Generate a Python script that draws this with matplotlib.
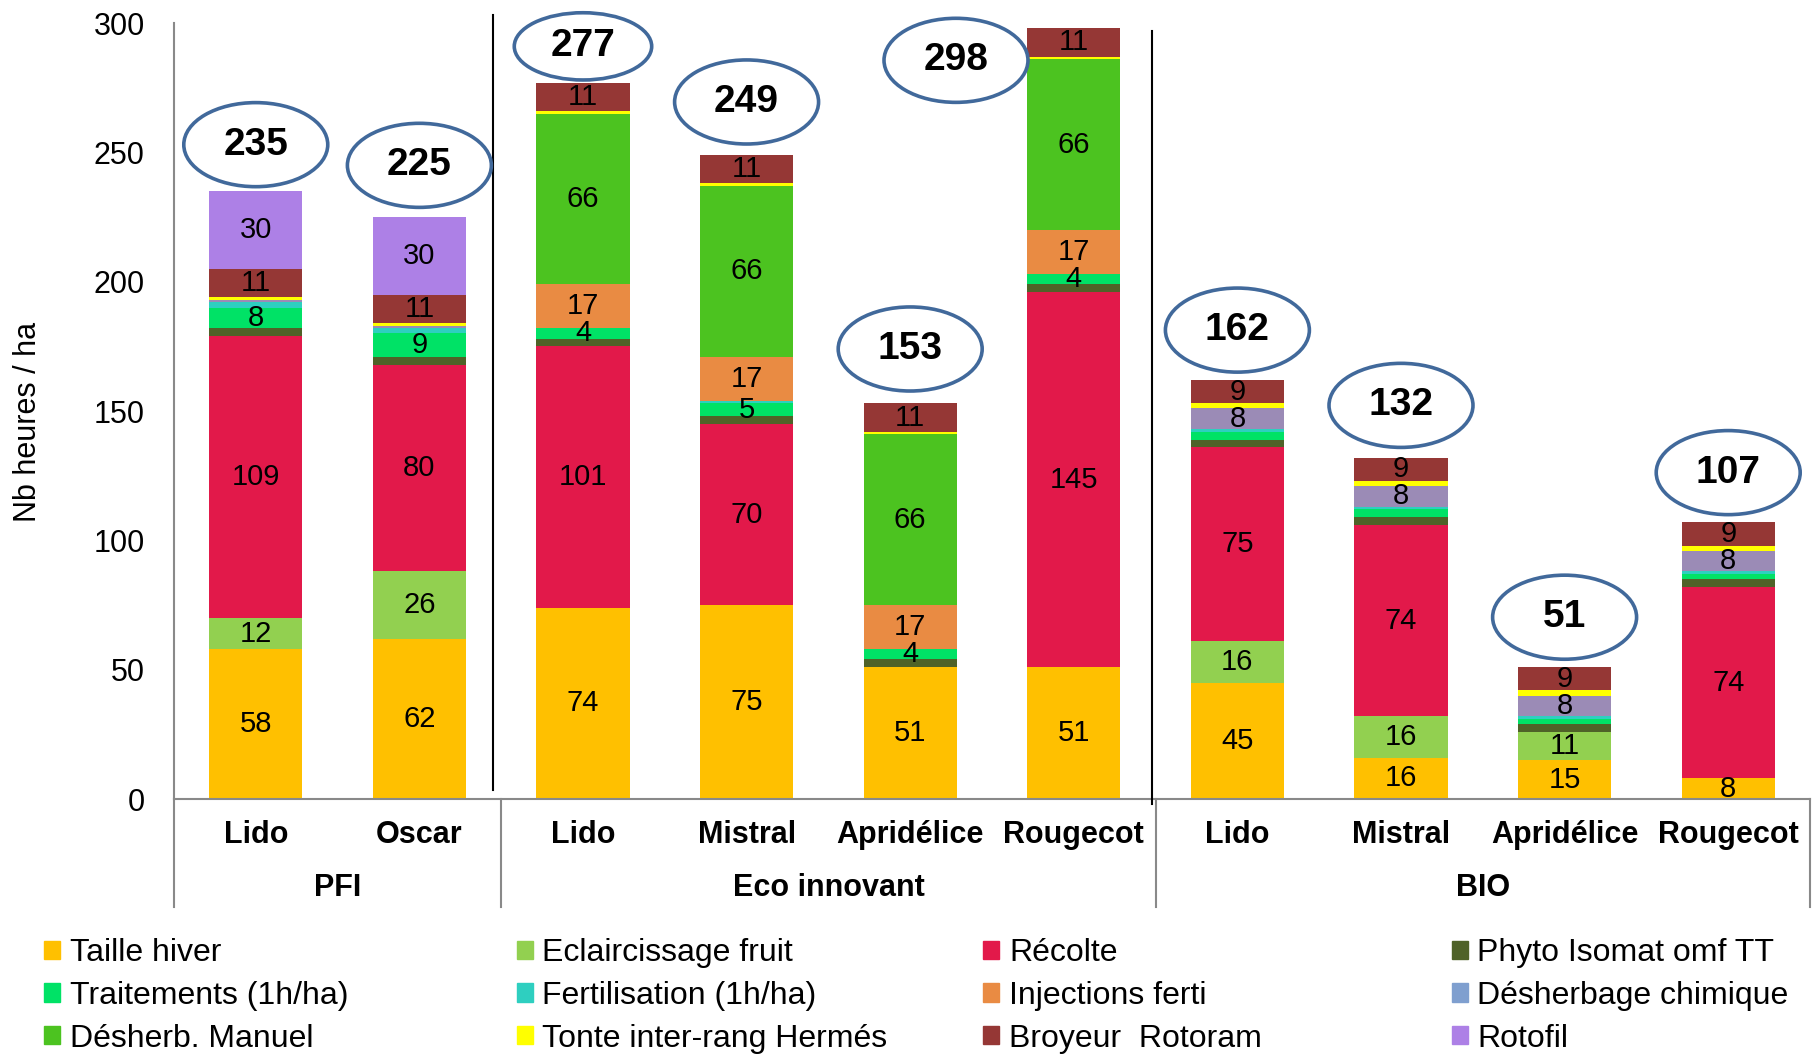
import matplotlib.pyplot as plt
from matplotlib.patches import Ellipse, Patch
import numpy as np

plt.rcParams['font.family'] = ['Liberation Sans', 'DejaVu Sans']

# categories
varieties = ['Lido', 'Oscar', 'Lido', 'Mistral', 'Apridélice', 'Rougecot',
             'Lido', 'Mistral', 'Apridélice', 'Rougecot']
groups = ['PFI', 'Eco innovant', 'BIO']
group_sizes = [2, 4, 4]

# hours per ha, one list per operation (bottom to top)
taille_hiver   = [58, 62, 74, 75, 51, 51, 45, 16, 15, 8]
eclaircissage  = [12, 26, 0, 0, 0, 0, 16, 16, 11, 0]
recolte        = [109, 80, 101, 70, 0, 145, 75, 74, 0, 74]
phyto          = [3, 3, 3, 3, 3, 3, 3, 3, 3, 3]
traitements    = [8, 9, 4, 5, 4, 4, 3, 3, 2, 2]
fertilisation  = [2, 2, 0, 1, 0, 0, 1, 1, 1, 1]
injections     = [0, 0, 17, 17, 17, 17, 0, 0, 0, 0]
desherb_chim   = [1, 1, 0, 0, 0, 0, 8, 8, 8, 8]
desherb_manuel = [0, 0, 66, 66, 66, 66, 0, 0, 0, 0]
tonte          = [1, 1, 1, 1, 1, 1, 2, 2, 2, 2]
broyeur        = [11, 11, 11, 11, 11, 11, 9, 9, 9, 9]
rotofil        = [30, 30, 0, 0, 0, 0, 0, 0, 0, 0]

series = [
    ('Taille hiver', taille_hiver, '#FFC000'),
    ('Eclaircissage fruit', eclaircissage, '#92D050'),
    ('Récolte', recolte, '#E2194A'),
    ('Phyto Isomat omf TT', phyto, '#4F6228'),
    ('Traitements (1h/ha)', traitements, '#00E266'),
    ('Fertilisation (1h/ha)', fertilisation, '#2ECFC0'),
    ('Injections ferti', injections, '#E98B43'),
    ('Désherbage chimique', desherb_chim, '#9B8BB6'),
    ('Désherb. Manuel', desherb_manuel, '#4CC320'),
    ('Tonte inter-rang Hermés', tonte, '#FFFF00'),
    ('Broyeur  Rotoram', broyeur, '#953735'),
    ('Rotofil', rotofil, '#AD80E6'),
]
legend_colors = {'Désherbage chimique': '#7F9FCF'}

# placement of the total ellipses relative to bar top
ell_dx = [0, 0, 0, 0, 0, -0.72, 0, 0, 0, 0]
ell_dy = [18, 20, 14, 20.5, 21, -12.4, 19.3, 20.2, 19.3, 19.2]

fig = plt.figure(figsize=(18.16, 10.54), dpi=100)
ax = fig.add_axes([0.0958, 0.2419, 0.9009, 0.7362])

x = np.arange(len(varieties))
bottom = np.zeros(len(varieties))
for name, vals, col in series:
    vals = np.array(vals, dtype=float)
    ax.bar(x, vals, 0.57, bottom=bottom, color=col, label=name, zorder=2)
    for xi, b, v in zip(x, bottom, vals):
        if v >= 4:
            ax.text(xi, b + v / 2, f'{v:.0f}', ha='center', va='center',
                    fontsize=21, zorder=4)
    bottom += vals

totals = bottom
for i, t in enumerate(totals):
    w, h = (0.84, 26) if i == 2 else (0.88, 32.5)
    cx, cy = x[i] + ell_dx[i], t + ell_dy[i]
    ax.add_patch(Ellipse((cx, cy), w, h, fc='white', ec='#41699B', lw=2.6,
                         zorder=5, clip_on=False))
    ax.text(cx, cy, f'{t:.0f}', ha='center', va='center', fontsize=28,
            fontweight='bold', zorder=6)

ax.set_xlim(-0.5, 9.5)
ax.set_ylim(0, 300)
ax.set_yticks(range(0, 301, 50))
ax.tick_params(axis='y', length=0, labelsize=22, pad=21)
ax.set_xticks([])
for s in ['top', 'right']:
    ax.spines[s].set_visible(False)
for s in ['left', 'bottom']:
    ax.spines[s].set_color('#898989')
    ax.spines[s].set_linewidth(1.5)

# black separators between groups
ax.plot([1.45, 1.45], [3.5, 303], color='black', lw=1.5, clip_on=False, zorder=3)
ax.plot([5.48, 5.48], [-2, 297], color='black', lw=1.5, clip_on=False, zorder=3)

# two-level category labels
tr = ax.get_xaxis_transform()
for xb in [-0.5, 1.5, 5.5, 9.5]:
    ax.plot([xb, xb], [0, -0.139], transform=tr, color='#898989', lw=1.5,
            clip_on=False)
for xi, name in zip(x, varieties):
    ax.text(xi, -0.046, name, transform=tr, ha='center', va='center',
            fontsize=22, fontweight='bold')
start = 0
for g, n in zip(groups, group_sizes):
    ax.text(start + (n - 1) / 2, -0.115, g, transform=tr, ha='center',
            va='center', fontsize=22, fontweight='bold')
    start += n

fig.text(0.0155, 0.60, 'Nb heures / ha', rotation=90, ha='center', va='center',
         fontsize=22)

# legend: 4 columns, row-wise order
handles = [Patch(color=legend_colors.get(n, c), label=n) for n, _, c in series]
col_x = [0.0245, 0.2845, 0.5415, 0.7995]
for j in range(4):
    hs = handles[j::4]
    fig.legend(handles=hs, loc='upper left', bbox_to_anchor=(col_x[j], 0.11),
               ncol=1, frameon=False, fontsize=23, handlelength=0.5,
               handleheight=0.5, handletextpad=0.3, labelspacing=0.4,
               borderpad=0, borderaxespad=0)

fig.savefig('out.png', dpi=100)
